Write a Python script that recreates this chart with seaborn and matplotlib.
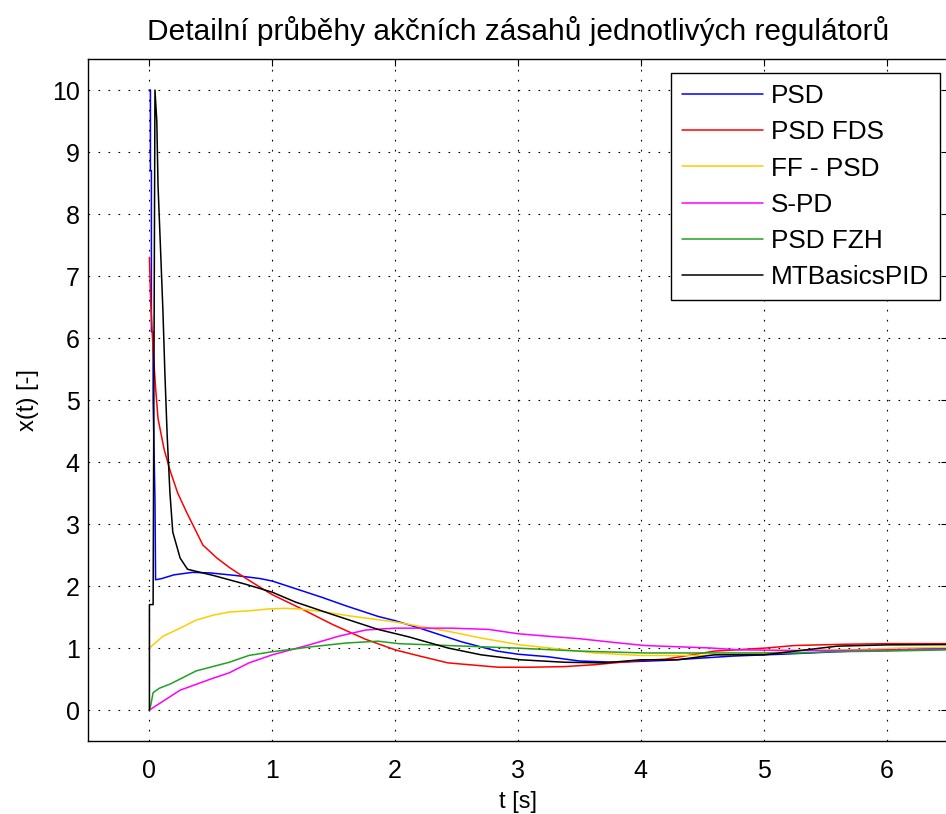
import pandas as pd
import numpy as np
import seaborn as sns
import matplotlib.pyplot as plt

# (time [s], action value [-])
psd_t = [0, 0.008, 0.008, 0.016, 0.016, 0.03, 0.03, 0.045, 0.05, 0.1, 0.2, 0.35, 0.5, 0.7, 0.9, 1.0,
         1.2, 1.4, 1.6, 1.86, 2.0, 2.2, 2.54, 2.83, 3.0, 3.24, 3.5, 3.8, 4.2, 4.75, 5.15, 5.6, 6.0, 6.5, 7.0]
psd_v = [10, 10, 8.7, 8.7, 6.1, 6.1, 5.0, 3.4, 2.1, 2.12, 2.18, 2.22, 2.21, 2.17, 2.12, 2.08,
         1.95, 1.82, 1.68, 1.51, 1.44, 1.32, 1.1, 0.95, 0.9, 0.86, 0.79, 0.77, 0.8, 0.87, 0.9, 0.94, 0.97, 1.0, 1.0]

fds_t = [0, 0.01, 0.02, 0.03, 0.05, 0.07, 0.1, 0.12, 0.17, 0.23, 0.3, 0.435, 0.55, 0.65, 0.78, 0.9, 1.0,
         1.22, 1.49, 1.76, 2.0, 2.2, 2.43, 2.84, 3.1, 3.38, 3.62, 4.0, 4.2, 4.6, 5.02, 5.25, 5.65, 6.0, 7.0]
fds_v = [7.3, 6.6, 6.2, 5.8, 5.2, 4.7, 4.4, 4.2, 3.85, 3.5, 3.2, 2.66, 2.45, 2.3, 2.13, 1.98, 1.86,
         1.65, 1.38, 1.14, 0.97, 0.87, 0.76, 0.69, 0.69, 0.7, 0.73, 0.8, 0.82, 0.95, 1.0, 1.04, 1.06, 1.07, 1.07]

ff_t = [0, 0.11, 0.25, 0.38, 0.52, 0.65, 0.81, 0.97, 1.1, 1.22, 1.4, 1.62, 2.0, 2.2, 2.43, 2.7, 3.02,
        3.4, 3.62, 4.0, 4.5, 5.0, 5.3, 5.7, 6.1, 7.0]
ff_v = [1.0, 1.19, 1.32, 1.45, 1.53, 1.58, 1.6, 1.63, 1.64, 1.63, 1.59, 1.52, 1.42, 1.35, 1.27, 1.16, 1.05,
        0.97, 0.92, 0.88, 0.88, 0.92, 0.96, 0.97, 1.0, 1.02]

spd_t = [0, 0.25, 0.5, 0.65, 0.81, 1.0, 1.3, 1.54, 1.76, 2.0, 2.16, 2.46, 2.76, 3.0, 3.24, 3.5, 3.78,
         4.03, 4.3, 4.57, 4.8, 5.3, 5.6, 6.16, 7.0]
spd_v = [0, 0.32, 0.5, 0.6, 0.76, 0.89, 1.05, 1.19, 1.29, 1.32, 1.32, 1.32, 1.3, 1.23, 1.19, 1.15, 1.09,
         1.04, 1.02, 1.0, 0.97, 0.96, 0.96, 0.97, 0.99]

fzh_t = [0, 0.01, 0.03, 0.08, 0.17, 0.38, 0.65, 0.81, 1.0, 1.32, 1.6, 1.86, 2.03, 2.43, 2.97, 3.5, 4.03,
         4.6, 5.3, 5.55, 6.0, 6.48, 7.0]
fzh_v = [0, 0.07, 0.28, 0.35, 0.42, 0.63, 0.77, 0.88, 0.94, 1.02, 1.08, 1.11, 1.07, 1.04, 1.0, 0.95, 0.92,
         0.92, 0.92, 0.94, 0.95, 0.97, 0.98]

mtb_t = [0, 0, 0.03, 0.045, 0.06, 0.07, 0.09, 0.11, 0.126, 0.145, 0.167, 0.19, 0.25, 0.31, 0.52, 0.78, 1.0,
         1.19, 1.49, 1.86, 2.11, 2.43, 2.7, 3.02, 3.38, 3.7, 4.0, 4.3, 4.6, 5.0, 5.3, 5.6, 6.0, 7.0]
mtb_v = [0, 1.7, 1.7, 10, 9.5, 8.46, 7.45, 6.43, 5.42, 4.4, 3.5, 2.87, 2.45, 2.27, 2.17, 2.03, 1.9,
         1.74, 1.54, 1.3, 1.18, 1.0, 0.89, 0.81, 0.77, 0.76, 0.81, 0.81, 0.89, 0.89, 0.96, 1.03, 1.05, 1.06]

names = ['PSD', 'PSD FDS', 'FF - PSD', 'S-PD', 'PSD FZH', 'MTBasicsPID']
colors = ['#0000ff', '#ff0000', '#ffcc00', '#ff00ff', '#22a022', '#000000']
x_ticks = [0, 1, 2, 3, 4, 5, 6]
y_ticks = list(range(0, 11))

# long-form table for seaborn
series = [(psd_t, psd_v), (fds_t, fds_v), (ff_t, ff_v), (spd_t, spd_v), (fzh_t, fzh_v), (mtb_t, mtb_v)]
df = pd.concat([pd.DataFrame({'t': t, 'x': v, 'regulator': n}) for n, (t, v) in zip(names, series)],
               ignore_index=True)

sns.set_theme(style='white')
plt.rcParams['font.family'] = ['Liberation Sans', 'DejaVu Sans']
plt.rcParams['text.color'] = 'black'
plt.rcParams['axes.labelcolor'] = 'black'

fig = plt.figure(figsize=(9.46, 8.14), dpi=100)
ax = fig.add_axes([88 / 946, 73 / 814, 860 / 946, 682 / 814])

sns.lineplot(data=df, x='t', y='x', hue='regulator', hue_order=names, palette=colors,
             estimator=None, sort=False, linewidth=1.1, ax=ax)

ax.set_xlim(-0.5, 6.5)
ax.set_ylim(-0.5, 10.5)
ax.set_xticks(x_ticks)
ax.set_yticks(y_ticks)
ax.grid(True, color='black', linestyle=(0, (1.5, 7.5)), linewidth=0.8)
ax.tick_params(direction='in', top=True, right=True, length=5, width=0.8, colors='black',
               labelsize=18)
ax.tick_params(axis='x', pad=13)
ax.tick_params(axis='y', pad=6)
for s in ax.spines.values():
    s.set_color('black')
    s.set_linewidth(1.0)

ax.set_title('Detailní průběhy akčních zásahů jednotlivých regulátorů', fontsize=21.5, pad=14)
ax.set_xlabel('t [s]', fontsize=17, labelpad=6)
ax.set_ylabel('x(t) [-]', fontsize=17, labelpad=9)

handles, labels = ax.get_legend_handles_labels()
leg = ax.legend(handles, labels, loc='upper right', bbox_to_anchor=(940 / 946, 1 - 73 / 814),
                bbox_transform=fig.transFigure, borderaxespad=0, fontsize=18.8, frameon=True,
                fancybox=False, edgecolor='black', framealpha=1, handlelength=3.1,
                handletextpad=0.3, labelspacing=0.47, borderpad=0.42)
leg.get_frame().set_linewidth(1.0)

plt.savefig('out.png', dpi=100)
